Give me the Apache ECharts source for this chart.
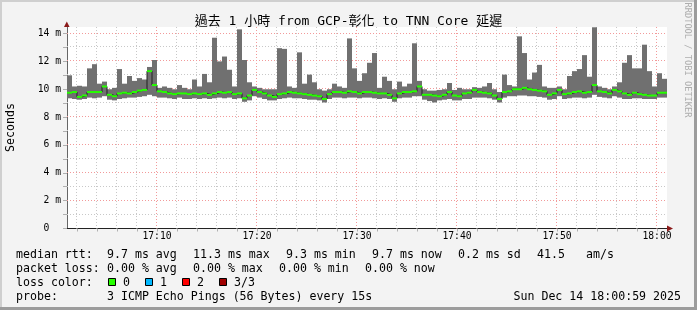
<!DOCTYPE html>
<html><head><meta charset="utf-8">
<script src="https://cdn.jsdelivr.net/npm/echarts@6/dist/echarts.min.js"></script>
<style>html,body{margin:0;padding:0;background:#f3f3f3}#c{width:697px;height:310px}</style>
</head><body><div id="c"></div><script>
// time in seconds after 17:00:00
const stepSeconds = 30;
const firstSec = 60;
const medianMs = [
 9.75,9.8,9.45,9.55,9.8,9.8,9.8,10.2,9.6,9.5,
 9.7,9.75,9.7,9.8,9.9,9.95,11.3,10.3,9.85,9.8,
 9.7,9.65,9.7,9.7,9.65,9.7,9.65,9.7,9.6,9.7,
 9.8,9.75,9.8,9.65,9.7,9.35,9.55,9.95,9.8,9.7,
 9.55,9.45,9.65,9.7,9.8,9.75,9.7,9.65,9.6,9.55,
 9.5,9.3,9.65,9.8,9.8,9.75,9.85,9.8,9.7,9.8,
 9.8,9.75,9.7,9.7,9.6,9.35,9.7,9.8,9.8,9.85,
 10.2,9.6,9.6,9.55,9.5,9.6,9.8,9.55,9.5,9.7,
 9.75,9.95,9.8,9.75,9.7,9.55,9.3,9.8,9.85,10.0,
 10.0,10.1,10.0,9.95,9.9,9.85,9.6,9.7,9.95,9.65,
 9.7,9.8,9.85,9.75,9.8,10.3,9.85,9.8,9.7,9.95,
 9.85,9.7,9.6,9.75,9.65,9.6,9.55,9.55,9.75,9.75];
const lowMs = [
 9.35,9.3,9.25,9.3,9.4,9.35,9.4,9.5,9.25,9.2,
 9.3,9.35,9.4,9.4,9.45,9.5,9.6,9.5,9.4,9.4,
 9.35,9.3,9.4,9.3,9.3,9.35,9.3,9.35,9.3,9.35,
 9.4,9.35,9.4,9.3,9.35,9.1,9.2,9.5,9.4,9.3,
 9.2,9.2,9.3,9.35,9.4,9.35,9.35,9.3,9.25,9.25,
 9.2,9.05,9.3,9.4,9.4,9.35,9.4,9.4,9.35,9.4,
 9.4,9.35,9.3,9.35,9.3,9.1,9.35,9.4,9.4,9.5,
 9.5,9.25,9.15,9.05,9.2,9.25,9.3,9.2,9.2,9.3,
 9.3,9.4,9.4,9.4,9.35,9.25,9.05,9.4,9.5,9.5,
 9.55,9.55,9.5,9.5,9.45,9.4,9.25,9.3,9.5,9.3,
 9.35,9.4,9.4,9.35,9.4,9.6,9.45,9.4,9.35,9.5,
 9.4,9.3,9.3,9.35,9.35,9.3,9.3,9.3,9.4,9.4];
const highMs = [
 11.0,10.2,10.25,10.2,11.5,11.8,10.4,10.55,10.0,10.1,
 11.45,10.4,10.95,10.6,10.8,10.7,11.6,12.1,10.1,10.2,
 10.1,10.0,10.3,10.1,10.0,10.7,10.2,11.1,10.5,13.7,
 12.0,12.35,11.4,10.2,14.3,12.1,10.5,10.2,10.1,10.0,
 10.0,10.0,12.95,12.9,10.2,10.1,12.65,10.4,11.05,10.5,
 10.0,9.9,10.0,10.4,10.2,10.1,13.65,11.5,10.6,11.15,
 11.9,12.6,10.1,10.9,10.6,10.0,10.55,10.2,10.4,13.3,
 10.6,10.0,9.9,9.9,9.95,10.0,10.45,9.95,10.1,10.0,
 10.0,10.15,10.1,10.2,10.45,10.0,9.8,11.05,10.3,10.2,
 13.8,12.6,10.7,11.2,11.75,10.2,10.1,10.1,10.2,10.0,
 10.95,11.3,11.45,12.45,10.9,14.45,10.2,10.1,10.0,10.2,
 10.5,11.9,12.45,11.5,11.5,13.2,11.3,10.2,11.15,10.75];
const xLabelSec = [600,1200,1800,2400,3000,3600];
const xTickLabels = ['17:10','17:20','17:30','17:40','17:50','18:00'];
const yTickValues = [0,1,2,3,4,5,6,7,8,9,10,11,12,13,14];
const yLabelValues = [0,2,4,6,8,10,12,14];
const yTickLabels = ['0  ','2 m','4 m','6 m','8 m','10 m','12 m','14 m'];
const titleText = '過去 1 小時 from GCP-彰化 to TNN Core 延遲';
const rttLabel = 'median rtt:';
const rttStats = ['9.7 ms avg','11.3 ms max','9.3 ms min','9.7 ms now','0.2 ms sd','41.5','am/s'];
const lossLabel = 'packet loss:';
const lossStats = ['0.00 % avg','0.00 % max','0.00 % min','0.00 % now'];
const lossColorLabel = 'loss color:';
const lossNames = ['0','1','2','3/3'];
const lossColors = ['#26ff00','#00b8ff','#ff0000','#a00000'];
const probeLabel = 'probe:';
const probeText = '3 ICMP Echo Pings (56 Bytes) every 15s';
const dateText = 'Sun Dec 14 18:00:59 2025';

const minorSec = [];
for (let s = 120; s <= 3600; s += 120) minorSec.push(s);

const smokeData = medianMs.map((m, i) => [firstSec + i * stepSeconds, lowMs[i], highMs[i], m]);
const medLine = medianMs.map((m, i) => [firstSec + i * stepSeconds, m]);
medLine.push([firstSec + medianMs.length * stepSeconds, medianMs[medianMs.length - 1]]);

const GRID_MINOR = '#c8c8c8';
const GRID_MAJOR = '#f29a9a';
const vGridData = minorSec.map(s => [s, 0, s % 600 === 0 ? 1 : 0]);
const hGridData = yTickValues.slice(1).map(v => [60, v, v % 2 === 0 ? 1 : 0]);

const MONO = '"DejaVu Sans Mono"';
const legendFont = '11.6px ' + MONO;
const chart = echarts.init(document.getElementById('c'), null, {renderer: 'canvas'});

function txt(text, x, y, extra) {
  return Object.assign({type: 'text', x: x, y: y, silent: true,
    style: Object.assign({text: text, font: legendFont, fill: '#000', align: 'left', verticalAlign: 'middle'}, extra || {})});
}
const g = [];
g.push({type:'rect', shape:{x:0,y:0,width:697,height:2}, style:{fill:'#cfcfcf'}, silent:true});
g.push({type:'rect', shape:{x:0,y:0,width:2,height:310}, style:{fill:'#cfcfcf'}, silent:true});
g.push({type:'rect', shape:{x:694,y:0,width:3,height:310}, style:{fill:'#9c9c9c'}, silent:true});
g.push({type:'rect', shape:{x:0,y:307,width:697,height:3}, style:{fill:'#9c9c9c'}, silent:true});
g.push(txt(titleText, 348.5, 21.5, {font: '13px ' + MONO + ',"Noto Sans CJK TC"', align: 'center'}));
g.push({type:'text', x: 11, y: 127.5, rotation: Math.PI/2, silent:true,
  style:{text:'Seconds', font: legendFont, fill:'#000', align:'center', verticalAlign:'middle'}});
g.push({type:'text', x: 687.5, y: 60, rotation: -Math.PI/2, silent:true,
  style:{text:'RRDTOOL / TOBI OETIKER', font: '8.7px ' + MONO, fill:'#adadad', align:'center', verticalAlign:'middle'}});
g.push({type:'polygon', shape:{points:[[64,27],[69.6,27],[66.8,21.5]]}, style:{fill:'#8b1a1a'}, silent:true, z: 10});
g.push({type:'polygon', shape:{points:[[667,225.6],[667,231.4],[673,228.5]]}, style:{fill:'#8b1a1a'}, silent:true, z: 10});
const rttX = [107, 193, 286, 372, 458, 537, 586];
g.push(txt(rttLabel, 16, 254.5));
rttStats.forEach((s, i) => g.push(txt(s, rttX[i], 254.5)));
const lossX = [107, 193, 279, 365];
g.push(txt(lossLabel, 16, 268.5));
lossStats.forEach((s, i) => g.push(txt(s, lossX[i], 268.5)));
g.push(txt(lossColorLabel, 16, 282.5));
const boxX = [108.5, 145.5, 182.5, 219.5];
const boxTX = [123, 160, 197, 234];
lossNames.forEach((n, i) => {
  g.push({type:'rect', shape:{x: boxX[i], y: 278.5, width: 7, height: 7}, style:{fill: lossColors[i], stroke:'#000', lineWidth:1}, silent:true});
  g.push(txt(n, boxTX[i], 282.5));
});
g.push(txt(probeLabel, 16, 296.5));
g.push(txt(probeText, 107, 296.5));
g.push(txt(dateText, 681, 296.5, {align: 'right'}));

const option = {
  backgroundColor: '#f3f3f3',
  animation: false,
  grid: {left: 67, top: 27, width: 600, height: 201.5, show: true, backgroundColor: '#ffffff', borderWidth: 0},
  xAxis: {
    type: 'value', min: 60, max: 3660,
    axisLine: {show: true, lineStyle: {color: '#222', width: 1}},
    axisTick: {show: true, customValues: minorSec, length: 3, lineStyle: {color: '#b0b0b0'}},
    axisLabel: {customValues: xLabelSec, margin: 3, fontFamily: 'DejaVu Sans Mono', fontSize: 9.7, color: '#000',
      formatter: v => xTickLabels[xLabelSec.indexOf(v)] || ''},
    splitLine: {show: false}
  },
  yAxis: {
    type: 'value', min: 0, max: 14.47,
    axisLine: {show: true, lineStyle: {color: '#666', width: 1}},
    axisTick: {show: true, customValues: yTickValues, length: 4, lineStyle: {color: '#b0b0b0'}},
    axisLabel: {customValues: yLabelValues, margin: 6, fontFamily: 'DejaVu Sans Mono', fontSize: 9.7, color: '#000',
      formatter: v => yTickLabels[yLabelValues.indexOf(v)] || ''},
    splitLine: {show: false}
  },
  series: [
    {
      type: 'custom', name: 'vgrid', z: 1, silent: true, clip: false,
      data: vGridData, encode: {x: 0, y: 1},
      renderItem: function (params, api) {
        const cs = params.coordSys;
        const p = api.coord([api.value(0), 0]);
        const x = Math.round(p[0]) - 0.5;
        return {type: 'line', shape: {x1: x, y1: cs.y, x2: x, y2: cs.y + cs.height},
          style: {stroke: api.value(2) ? GRID_MAJOR : GRID_MINOR, lineWidth: 1, lineDash: [1, 2]}};
      }
    },
    {
      type: 'custom', name: 'hgrid', z: 1, silent: true, clip: false,
      data: hGridData, encode: {x: 0, y: 1},
      renderItem: function (params, api) {
        const cs = params.coordSys;
        const p = api.coord([60, api.value(1)]);
        const y = Math.round(p[1]) - 0.5;
        return {type: 'line', shape: {x1: cs.x, y1: y, x2: cs.x + cs.width, y2: y},
          style: {stroke: api.value(2) ? GRID_MAJOR : GRID_MINOR, lineWidth: 1, lineDash: [1, 2]}};
      }
    },
    {
      type: 'custom', name: 'smoke', z: 2, silent: true,
      data: smokeData, encode: {x: 0, y: [1, 2]},
      renderItem: function (params, api) {
        const t = api.value(0);
        const p1 = api.coord([t, api.value(2)]);
        const p2 = api.coord([t + stepSeconds, api.value(1)]);
        return {type: 'rect', shape: {x: p1[0], y: p1[1], width: p2[0] - p1[0], height: p2[1] - p1[1]}, style: {fill: '#707070'}};
      }
    },
    {
      type: 'line', name: 'median', z: 3, step: 'end', symbol: 'none', silent: true,
      data: medLine, lineStyle: {color: '#202020', width: 1}
    },
    {
      type: 'custom', name: 'median loss 0', z: 4, silent: true,
      data: smokeData, encode: {x: 0, y: 3},
      renderItem: function (params, api) {
        const t = api.value(0);
        const m = api.value(3);
        const p1 = api.coord([t, m]);
        const p2 = api.coord([t + stepSeconds, m]);
        return {type: 'line', shape: {x1: p1[0], y1: p1[1], x2: p2[0], y2: p2[1]}, style: {stroke: lossColors[0], lineWidth: 2}};
      }
    }
  ],
  graphic: g
};
chart.setOption(option);
</script></body></html>
